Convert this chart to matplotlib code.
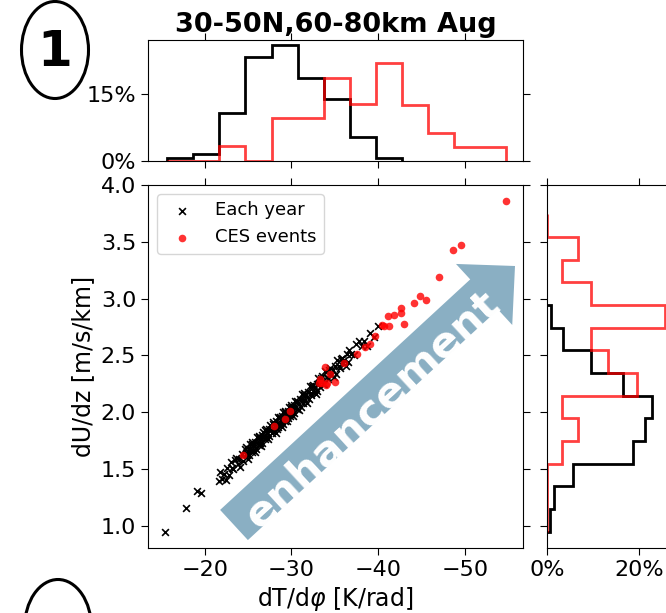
import numpy as np
import matplotlib.pyplot as plt
from matplotlib.patches import Ellipse, FancyArrow
from matplotlib.ticker import PercentFormatter

# yearly values (dT/dphi [K/rad], dU/dz [m/s/km])
year_dT = [-15.39, -17.89, -19.12, -19.58, -21.61,
           -21.8, -22.0, -22.2, -22.4, -22.6, -22.8, -23.0, -23.1, -23.3,
           -23.5, -23.6, -23.8, -24.0, -24.1, -24.3, -24.4, -24.6, -24.7,
           -24.8, -24.9, -24.95, -25.0, -25.05, -25.1, -25.2, -25.3, -25.4,
           -25.45, -25.5, -25.6, -25.7, -25.8, -25.85, -25.9, -26.0, -26.1,
           -26.2, -26.25, -26.3, -26.4, -26.45, -26.5, -26.6, -26.65, -26.7,
           -26.8, -26.9, -27.0, -27.05, -27.1, -27.2, -27.3, -27.4, -27.45,
           -27.5, -27.6,
           -27.8, -27.85, -27.9, -28.0, -28.1, -28.2, -28.25, -28.3, -28.4,
           -28.45, -28.5, -28.6, -28.65, -28.7, -28.8, -28.9, -28.95, -29.0,
           -29.05, -29.1, -29.2, -29.25, -29.3, -29.4, -29.45, -29.5, -29.6,
           -29.65, -29.7, -29.8, -29.85, -29.9, -30.0, -30.05, -30.1, -30.2,
           -30.25, -30.3, -30.4, -30.5, -30.6, -30.65,
           -30.8, -30.9, -31.0, -31.1, -31.2, -31.3, -31.35, -31.4, -31.5,
           -31.6, -31.7, -31.8, -31.9, -32.0, -32.1, -32.2, -32.3, -32.4,
           -32.5, -32.6, -32.7, -32.8, -32.9, -33.0, -33.1, -33.2, -33.3,
           -33.4, -33.5, -33.6,
           -33.8, -33.9, -34.1, -34.2, -34.3, -34.5, -34.6, -34.8, -34.95,
           -35.0, -35.1, -35.3, -35.5, -35.6, -35.7, -35.8, -36.0, -36.1,
           -36.3, -36.4, -36.5, -36.6,
           -36.9, -37.2, -37.5, -37.8, -38.1, -38.4, -38.7, -39.1, -39.5, -40.0]
year_dU = [0.95, 1.156, 1.311, 1.288, 1.399,
           1.47, 1.41, 1.46, 1.40, 1.51, 1.45, 1.56, 1.51, 1.50,
           1.58, 1.60, 1.54, 1.59, 1.52, 1.63, 1.57, 1.68, 1.63,
           1.69, 1.62, 1.66, 1.59, 1.68, 1.62, 1.72, 1.67, 1.65,
           1.72, 1.74, 1.67, 1.71, 1.65, 1.74, 1.68, 1.78, 1.73,
           1.71, 1.78, 1.79, 1.73, 1.77, 1.70, 1.80, 1.73, 1.83,
           1.78, 1.76, 1.84, 1.85, 1.78, 1.82, 1.76, 1.85, 1.79,
           1.89, 1.84,
           1.82, 1.90, 1.91, 1.85, 1.89, 1.82, 1.92, 1.85, 1.96,
           1.90, 1.87, 1.95, 1.96, 1.90, 1.94, 1.87, 1.97, 1.90,
           2.00, 1.95, 1.92, 2.00, 2.01, 1.95, 1.98, 1.92, 2.01,
           1.95, 2.05, 2.00, 1.97, 2.05, 2.06, 2.00, 2.03, 1.97,
           2.06, 1.99, 2.10, 2.05, 2.03, 2.10,
           2.08, 2.02, 2.12, 2.05, 2.16, 2.11, 2.08, 2.15, 2.17,
           2.11, 2.15, 2.08, 2.18, 2.12, 2.23, 2.17, 2.15, 2.23,
           2.24, 2.18, 2.22, 2.16, 2.25, 2.19, 2.30, 2.25, 2.22,
           2.30, 2.32, 2.25,
           2.25, 2.36, 2.31, 2.29, 2.37, 2.39, 2.33, 2.37, 2.31,
           2.41, 2.34, 2.46, 2.41, 2.39, 2.47, 2.48, 2.43, 2.46,
           2.41, 2.51, 2.44, 2.55,
           2.51, 2.50, 2.60, 2.63, 2.58, 2.63, 2.58, 2.70, 2.66, 2.76]

# CES events
ces_dT = [-54.72, -49.61, -48.60, -46.99, -45.54, -44.88, -44.11, -42.69,
          -42.69, -42.95, -41.80, -41.11, -40.65, -41.22, -40.46, -39.69,
          -39.11, -38.54, -37.58, -36.03, -33.92, -34.50, -33.35, -33.15,
          -34.12, -35.07, -33.55, -33.93, -29.88, -29.31, -27.96, -24.43]
ces_dU = [3.86, 3.47, 3.43, 3.19, 2.99, 3.02, 2.96, 2.92,
          2.87, 2.78, 2.86, 2.85, 2.76, 2.76, 2.77, 2.67,
          2.60, 2.57, 2.51, 2.43, 2.40, 2.34, 2.29, 2.26,
          2.26, 2.27, 2.26, 2.24, 2.01, 1.94, 1.88, 1.62]

# histograms in percent
dT_edges = np.linspace(-15.66, -54.8, 14)
year_dT_pct = [0.6, 1.5, 10.8, 23.4, 26.0, 18.5, 13.8, 5.4, 0.6]
ces_dT_pct = [0, 0, 3.4, 0, 9.6, 9.6, 18.7, 12.8, 22.0, 12.5, 6.2, 3.2, 3.2]
dU_edges = np.linspace(0.95, 3.742, 15)
year_dU_pct = [0.6, 1.4, 5.5, 18.6, 21.2, 22.7, 16.5, 9.6, 3.5, 0.7]
ces_dU_pct = [0, 0, 0, 3.1, 6.7, 3.1, 19.4, 13.3, 9.6, 25.6, 9.6, 3.1, 6.7, 0]

W, H = 666, 613
fig = plt.figure(figsize=(W / 100, H / 100), dpi=100)


def box(l, t, r, b):
    return [l / W, 1 - b / H, (r - l) / W, (b - t) / H]


ax = fig.add_axes(box(148, 185, 523.3, 548))
ax_top = fig.add_axes(box(148, 40, 523.3, 161))
ax_right = fig.add_axes(box(547.3, 185, 671, 548))

ax.scatter(year_dT, year_dU, marker='x', s=24, c='k', linewidths=1.2,
           label='Each year', zorder=3)
ax.scatter(ces_dT, ces_dU, marker='o', s=30, c='red', alpha=0.8,
           linewidths=0, label='CES events', zorder=4)
ax.set_xlim(-13.45, -56.75)
ax.set_ylim(0.805, 4.0)
ax.set_xlabel('dT/d$\\varphi$ [K/rad]', fontsize=17)
ax.set_ylabel('dU/dz [m/s/km]', fontsize=17)
ax.legend(loc='upper left', fontsize=13)

# enhancement arrow
arrow = FancyArrow(2.34, 0.88, 2.81, 2.59, width=0.41, head_width=0.83,
                   head_length=0.42, length_includes_head=True,
                   transform=fig.dpi_scale_trans, color='#8aafc3', lw=0,
                   zorder=1)
ax.add_patch(arrow)
ax.text(3.69, 2.06, 'enhancement', transform=fig.dpi_scale_trans,
        rotation=42.6, rotation_mode='anchor', ha='center',
        va='center_baseline', fontsize=31, fontweight='bold', color='white',
        zorder=2)

# marginal histograms
ax_top.stairs(year_dT_pct, dT_edges[:len(year_dT_pct) + 1], color='k', lw=2)
ax_top.stairs(ces_dT_pct, dT_edges, color='red', lw=2, alpha=0.75)
ax_top.set_ylim(0, 27.1)
ax_top.set_yticks([0, 15])
ax_top.yaxis.set_major_formatter(PercentFormatter(decimals=0))
ax_top.set_title('30-50N,60-80km Aug', fontsize=19.5, fontweight='bold')

ax_right.stairs(year_dU_pct, dU_edges[:len(year_dU_pct) + 1], color='k',
                lw=2, orientation='horizontal')
ax_right.stairs(ces_dU_pct, dU_edges, color='red', lw=2, alpha=0.75,
                orientation='horizontal')
ax_right.set_xlim(0, 26.9)
ax_right.set_xticks([0, 20])
ax_right.xaxis.set_major_formatter(PercentFormatter(decimals=0))

for a in (ax, ax_top, ax_right):
    a.tick_params(top=True, right=True, labelsize=16, length=5)
ax_top.tick_params(labelbottom=False)
ax_right.tick_params(labelleft=False)
ax_top.set_xticks(ax.get_xticks())
ax_top.set_xlim(ax.get_xlim())
ax_right.set_yticks(ax.get_yticks())
ax_right.set_ylim(ax.get_ylim())

# panel labels
fig.add_artist(Ellipse((0.55, 5.63), 0.67, 0.97, transform=fig.dpi_scale_trans,
                       fill=False, lw=2.2, color='k'))
fig.text(0.55, 5.61, '1', transform=fig.dpi_scale_trans, ha='center',
         va='center', fontsize=36, fontweight='bold')
fig.add_artist(Ellipse((0.58, -0.15), 0.67, 0.97, transform=fig.dpi_scale_trans,
                       fill=False, lw=2.2, color='k'))

fig.savefig('out.png', dpi=100)
